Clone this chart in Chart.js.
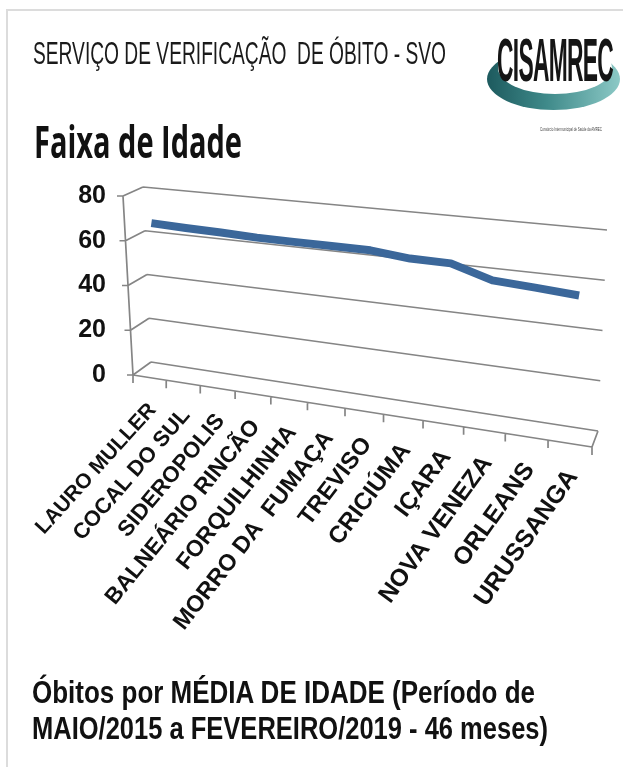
<!DOCTYPE html>
<html><head><meta charset="utf-8">
<script src="https://cdn.jsdelivr.net/npm/chart.js@4.4.1/dist/chart.umd.min.js"></script>
<style>
html,body{margin:0;padding:0;background:#fff;}
#wrap{position:relative;width:623px;height:767px;overflow:hidden;background:#fff;}
#frame{position:absolute;left:6px;top:9px;width:700px;height:800px;border-left:2px solid #dcdcdc;border-top:2px solid #dcdcdc;}
#c{position:absolute;left:0;top:0;}
.t{position:absolute;white-space:pre;transform-origin:0 0;line-height:1;color:#111;}
#svo{left:33px;top:35px;font:32px 'Liberation Sans',Arial,sans-serif;color:#1a1a1a;}
#faixa{left:34px;top:110px;font:bold 45px 'Open Sans',sans-serif;color:#111;}
#ob1{left:32px;top:674px;font:bold 32px 'Liberation Sans',Arial,sans-serif;}
#ob2{left:32px;top:710px;font:bold 32px 'Liberation Sans',Arial,sans-serif;}
#ring{position:absolute;left:487px;top:48px;width:133px;height:62px;border-radius:50%;
 background:linear-gradient(90deg,#1d5a5e 0%,#3f8a8a 45%,#8cc9c6 100%);}
#ringIn{position:absolute;left:498px;top:42px;width:114px;height:52px;border-radius:50%;background:#fff;}
#cis{left:497px;top:24px;font:bold 62px 'Liberation Sans',Arial,sans-serif;color:#151515;letter-spacing:-2px;}
#tiny{left:540px;top:126px;font:6px 'Liberation Sans',Arial,sans-serif;color:#444;}
</style></head>
<body><div id="wrap">
<div id="frame"></div>
<canvas id="c" width="623" height="767"></canvas>
<div class="t" id="svo" data-w="413">SERVIÇO DE VERIFICAÇÃO  DE ÓBITO - SVO</div>
<div id="ring"></div><div id="ringIn"></div>
<div class="t" id="cis" data-w="116">CISAMREC</div>
<div class="t" id="tiny" data-w="62">Consórcio Intermunicipal de Saúde da AMREC</div>
<div class="t" id="faixa" data-w="208">Faixa de Idade</div>
<div class="t" id="ob1" data-w="503">Óbitos por MÉDIA DE IDADE (Período de</div>
<div class="t" id="ob2" data-w="516">MAIO/2015 a FEVEREIRO/2019 - 46 meses)</div>
</div>
<script>
// ---- data ----
const categories = ['LAURO MULLER','COCAL DO SUL','SIDEROPOLIS','BALNEÁRIO RINCÃO','FORQUILHINHA','MORRO DA  FUMAÇA','TREVISO','CRICIÚMA','IÇARA','NOVA VENEZA','ORLEANS','URUSSANGA'];
const mediaIdade = [66.5, 65.9, 65.5, 64.9, 64.7, 64.6, 64.5, 62.8, 62.6, 57.5, 56.5, 55.3];
const yTicks = [0, 20, 40, 60, 80];

// ---- 3D view (perspective box corners, style) ----
const view = {
  FLB:[133,375], FLT:[123,196], FRB:[592,447], FRT:[602,240],
  BLB:[151,362], BLT:[143,187], BRB:[598,431], BRT:[607,230],
  persp:0.1417, lineDepth:0.5,
  grid:'#858585', gridW:1.7, tick:8,
  labAngL:46, labAngSpan:9, labSizeL:20, labSizeSpan:5
};
function lerp(a,b,f){return [a[0]+(b[0]-a[0])*f, a[1]+(b[1]-a[1])*f];}
function project(t,s,d){
  const c=view.persp, u=(1-c)*t/(1-c*t);
  const F=lerp(lerp(view.FLB,view.FLT,s), lerp(view.FRB,view.FRT,s), u);
  const B=lerp(lerp(view.BLB,view.BLT,s), lerp(view.BRB,view.BRT,s), u);
  return lerp(F,B,d);
}
function tOf(xs,px){return (px-xs.left)/xs.width;}
function sOf(ys,py){return (ys.bottom-py)/ys.height;}

const perspective = {
  id:'perspective',
  afterUpdate(chart){
    const xs=chart.scales.x, ys=chart.scales.y;
    chart.getDatasetMeta(0).data.forEach(el=>{
      const p=project(tOf(xs,el.x), sOf(ys,el.y), view.lineDepth);
      el.x=p[0]; el.y=p[1];
    });
  },
  beforeDatasetsDraw(chart){
    const ctx=chart.ctx, xs=chart.scales.x, ys=chart.scales.y;
    const seg=(a,b)=>{ctx.moveTo(a[0],a[1]);ctx.lineTo(b[0],b[1]);};
    ctx.save();
    ctx.strokeStyle=view.grid; ctx.lineWidth=view.gridW; ctx.lineCap='butt';
    ctx.beginPath();
    yTicks.forEach(v=>{
      const s=sOf(ys,ys.getPixelForValue(v));
      const f=project(0,s,0), bl=project(0,s,1), br=project(1,s,1);
      seg(f,bl); seg(bl,br);
      seg(f,[f[0]-6,f[1]]);
    });
    seg(project(0,0,0), project(0,1,0));
    seg(project(0,0,0), project(1,0,0));
    seg(project(1,0,0), project(1,0,1));
    const n=categories.length;
    for(let k=0;k<=n;k++){
      const t=tOf(xs, xs.getPixelForValue(k-0.5));
      const p=project(t,0,0);
      seg(p,[p[0],p[1]+view.tick]);
    }
    ctx.stroke();
    ctx.restore();
  },
  afterDraw(chart){
    const ctx=chart.ctx, xs=chart.scales.x;
    ctx.save();
    ctx.fillStyle='#111';
    ctx.textAlign='right'; ctx.textBaseline='middle';
    chart.data.labels.forEach((lab,i)=>{
      const t=tOf(xs, xs.getPixelForValue(i));
      const p=project(t,0,0);
      const k=Math.sqrt(t);
      const ang=view.labAngL+view.labAngSpan*k;
      const size=view.labSizeL+view.labSizeSpan*k;
      ctx.font="bold "+size.toFixed(1)+"px 'Liberation Sans', Arial, sans-serif";
      ctx.save();
      ctx.translate(p[0]+3, p[1]+29);
      ctx.rotate(-ang*Math.PI/180);
      ctx.fillText(lab,0,0);
      ctx.restore();
    });
    ctx.restore();
  }
};

new Chart(document.getElementById('c').getContext('2d'), {
  type:'line',
  data:{labels:categories, datasets:[{data:mediaIdade, borderColor:'#3b679a', borderWidth:8,
    pointRadius:0, tension:0, clip:false, borderCapStyle:'butt', borderJoinStyle:'round', fill:false}]},
  options:{
    responsive:false, animation:false, events:[],
    layout:{padding:{left:0, right:23, top:196, bottom:767-375}},
    plugins:{legend:{display:false}, tooltip:{enabled:false}, title:{display:false}},
    scales:{
      x:{type:'category', display:false, offset:true},
      y:{min:0, max:80,
         afterBuildTicks(s){ s.ticks = yTicks.map(v=>({value:v})); },
         afterFit(s){ s.width=115; },
         grid:{display:false, drawTicks:false}, border:{display:false},
         ticks:{padding:9, color:'#111', font:{family:"'Liberation Sans', Arial, sans-serif", weight:'bold', size:25}}}
    }
  },
  plugins:[perspective]
});

document.querySelectorAll('.t[data-w]').forEach(el=>{
  const w=el.getBoundingClientRect().width;
  el.style.transform='scaleX('+(parseFloat(el.dataset.w)/w)+')';
});
</script>
</body></html>
